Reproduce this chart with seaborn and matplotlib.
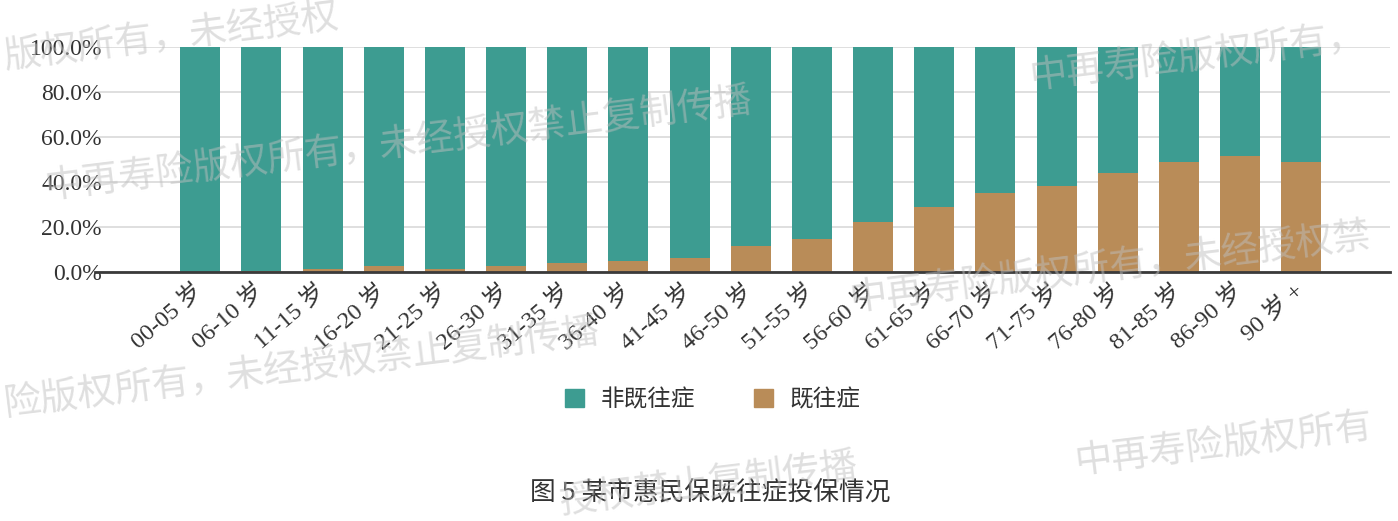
import pandas as pd
import matplotlib
matplotlib.use("Agg")
import matplotlib.pyplot as plt
import matplotlib.ticker as ticker
from matplotlib.patches import Patch
import seaborn as sns

# age groups and share of applicants with pre-existing conditions
age_groups = ["00-05 岁", "06-10 岁", "11-15 岁", "16-20 岁", "21-25 岁", "26-30 岁",
              "31-35 岁", "36-40 岁", "41-45 岁", "46-50 岁", "51-55 岁", "56-60 岁",
              "61-65 岁", "66-70 岁", "71-75 岁", "76-80 岁", "81-85 岁", "86-90 岁", "90 岁 +"]
prev_share = [0.000, 0.005, 0.012, 0.028, 0.012, 0.028, 0.041, 0.049, 0.063, 0.114,
              0.147, 0.221, 0.288, 0.351, 0.381, 0.442, 0.487, 0.515, 0.487]
nonprev_share = [1 - v for v in prev_share]
series_names = ["非既往症", "既往症"]
y_ticks = [0.0, 0.2, 0.4, 0.6, 0.8, 1.0]
title = "图 5 某市惠民保既往症投保情况"
# visible pieces of the copyright watermark
watermarks = ["版权所有，未经授权", "中再寿险版权所有，未经授权禁止复制传播", "中再寿险版权所有，",
              "险版权所有，未经授权禁止复制传播", "中再寿险版权所有，未经授权禁", "中再寿险版权所有",
              "授权禁止复制传播"]

teal = "#3d9c91"
brown = "#b98c58"

df = pd.DataFrame({"age": age_groups, "prev": prev_share, "nonprev": nonprev_share})
df["total"] = df["prev"] + df["nonprev"]

sns.set_theme(style="white")
serif_cjk = ["Liberation Serif", "Noto Sans CJK SC"]
plt.rcParams["font.family"] = ["Noto Sans CJK SC", "DejaVu Sans"]

W, H = 1398, 521
fig = plt.figure(figsize=(W / 100, H / 100), dpi=100)
ax = fig.add_axes([95 / W, 1 - 272 / H, (1390 - 95) / W, (272 - 47) / H])

sns.barplot(data=df, x="age", y="total", color=teal, width=0.654, saturation=1,
            linewidth=0, edgecolor="none", ax=ax, zorder=2)
sns.barplot(data=df, x="age", y="prev", color=brown, width=0.654, saturation=1,
            linewidth=0, edgecolor="none", ax=ax, zorder=3)

ax.set_xlim(-1.72, 19.45)
ax.set_ylim(0, 1.0)
ax.set_yticks(y_ticks)
ax.yaxis.set_major_formatter(ticker.PercentFormatter(1.0, decimals=1))
ax.grid(axis="y", color="#d9d9d9", linewidth=1.2, zorder=0)
ax.set_axisbelow(True)
for s in ["top", "right", "left"]:
    ax.spines[s].set_visible(False)
ax.spines["bottom"].set_color("#3a3a3a")
ax.spines["bottom"].set_linewidth(2)
ax.spines["bottom"].set_zorder(4)
ax.set_xlabel("")
ax.set_ylabel("")
ax.tick_params(axis="both", length=0)
ax.tick_params(axis="y", pad=-5)

for lab in ax.get_yticklabels():
    lab.set_family(serif_cjk)
    lab.set_fontsize(17)
    lab.set_color("#333333")
for lab in ax.get_xticklabels():
    lab.set_family(serif_cjk)
    lab.set_fontsize(17.5)
    lab.set_color("#333333")
    lab.set_rotation(41)
    lab.set_ha("right")
    lab.set_va("center")
    lab.set_rotation_mode("anchor")
ax.tick_params(axis="x", pad=12)

handles = [Patch(color=teal, label=series_names[0]), Patch(color=brown, label=series_names[1])]
fig.legend(handles=handles, loc="center", bbox_to_anchor=(713 / W, 1 - 400 / H), ncol=2,
           frameon=False, fontsize=17, handlelength=0.8, handleheight=0.8,
           columnspacing=2.5, handletextpad=0.7, labelcolor="#333333")

fig.text(710 / W, 1 - 493 / H, title, ha="center", va="center", fontsize=18.5, color="#333333")

# faint watermarks: left anchor (x, y) in pixels
wm_pos = [(4, 58), (45, 188), (1030, 78), (4, 405), (850, 300), (1075, 462), (560, 503)]
for txt, (x0, y0) in zip(watermarks, wm_pos):
    fig.text(x0 / W, 1 - y0 / H, txt, ha="left", va="center", rotation=7,
             rotation_mode="anchor", fontsize=27, color="#bfbfbf", alpha=0.5, zorder=10)

fig.savefig("out.png", dpi=100)
